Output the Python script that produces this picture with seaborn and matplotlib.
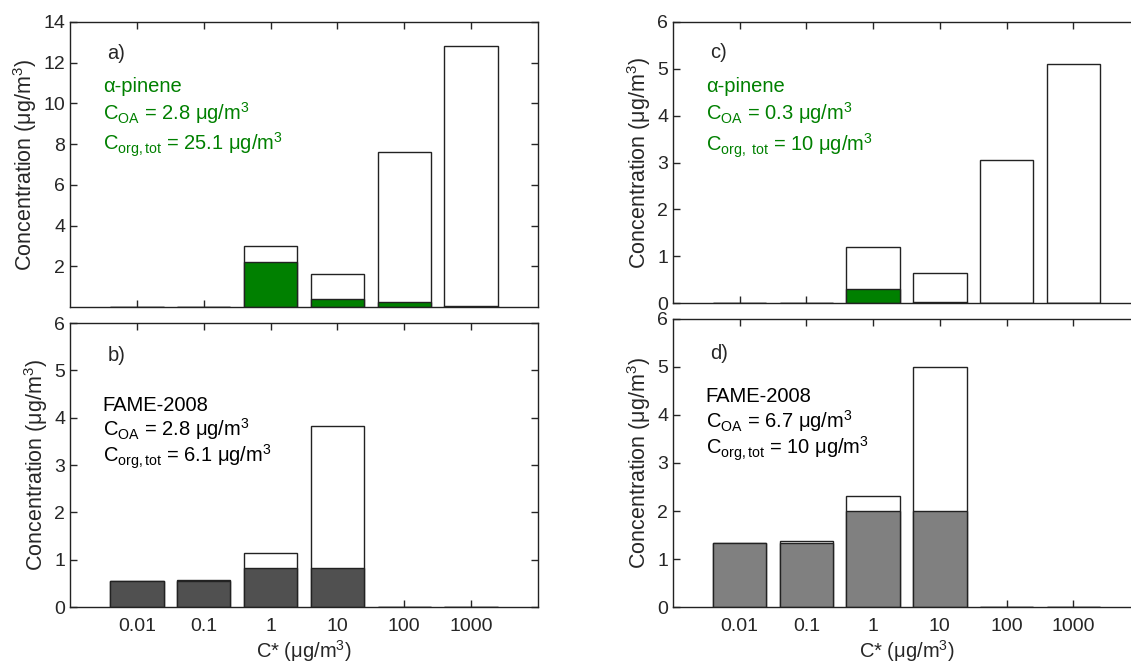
import numpy as np
import pandas as pd
import matplotlib
matplotlib.use('Agg')
import matplotlib.pyplot as plt
import seaborn as sns

# volatility bins (C*, ug/m3)
cstar = ['0.01', '0.1', '1', '10', '100', '1000']

# a) alpha-pinene, C_OA = 2.8
tot_a = [0, 0, 3.0, 1.62, 7.62, 12.8]
cond_a = [0, 0, 2.2, 0.38, 0.25, 0.05]
# b) FAME-2008, C_OA = 2.8
tot_b = [0.55, 0.57, 1.14, 3.83, 0, 0]
cond_b = [0.55, 0.55, 0.83, 0.83, 0, 0]
# c) alpha-pinene, C_OA = 0.3
tot_c = [0, 0, 1.2, 0.64, 3.05, 5.1]
cond_c = [0, 0, 0.29, 0.03, 0.01, 0]
# d) FAME-2008, C_OA = 6.7
tot_d = [1.34, 1.37, 2.31, 5.0, 0, 0]
cond_d = [1.33, 1.33, 2.0, 2.0, 0, 0]

sns.set_style('ticks')
plt.rcParams['font.family'] = ['Liberation Sans', 'DejaVu Sans']
plt.rcParams['mathtext.fontset'] = 'custom'
plt.rcParams['mathtext.rm'] = 'Liberation Sans'
plt.rcParams['mathtext.it'] = 'Liberation Sans:italic'
plt.rcParams['mathtext.bf'] = 'Liberation Sans:bold'
plt.rcParams['xtick.direction'] = 'in'
plt.rcParams['ytick.direction'] = 'in'

W, H = 1131, 662
fig = plt.figure(figsize=(W / 100, H / 100), dpi=100)


def px_axes(left, top, right, bottom):
    return fig.add_axes([left / W, 1 - bottom / H, (right - left) / W, (bottom - top) / H])


ax_a = px_axes(70, 22, 538, 307)
ax_b = px_axes(70, 323, 538, 607)
ax_c = px_axes(673, 22, 1140, 303)
ax_d = px_axes(673, 319, 1140, 607)

green = '#008000'
panels = [
    (ax_a, tot_a, cond_a, green, 14, 'a)', green,
     ['α-pinene', r'C$_{\mathrm{OA}}$ = 2.8 μg/m$^3$', r'C$_{\mathrm{org,tot}}$ = 25.1 μg/m$^3$'],
     [0.89, 0.772, 0.68, 0.57]),
    (ax_b, tot_b, cond_b, '#505050', 6, 'b)', 'black',
     ['FAME-2008', r'C$_{\mathrm{OA}}$ = 2.8 μg/m$^3$', r'C$_{\mathrm{org,tot}}$ = 6.1 μg/m$^3$'],
     [0.885, 0.71, 0.625, 0.53]),
    (ax_c, tot_c, cond_c, green, 6, 'c)', green,
     ['α-pinene', r'C$_{\mathrm{OA}}$ = 0.3 μg/m$^3$', r'C$_{\mathrm{org,\ tot}}$ = 10 μg/m$^3$'],
     [0.89, 0.77, 0.675, 0.56]),
    (ax_d, tot_d, cond_d, '#808080', 6, 'd)', 'black',
     ['FAME-2008', r'C$_{\mathrm{OA}}$ = 6.7 μg/m$^3$', r'C$_{\mathrm{org,tot}}$ = 10 μg/m$^3$'],
     [0.88, 0.73, 0.645, 0.55]),
]

for ax, tot, cond, col, ymax, tag, tcol, lines, ys in panels:
    sns.barplot(x=cstar, y=tot, order=cstar, color='white', saturation=1,
                width=0.8, edgecolor='#222222', linewidth=1.0, ax=ax)
    sns.barplot(x=cstar, y=cond, order=cstar, color=col, saturation=1,
                width=0.8, edgecolor='#222222', linewidth=1.0, ax=ax)
    ax.set_xlim(-1, 6)
    ax.set_ylim(0, ymax)
    ax.tick_params(top=True, right=True, length=5, width=1, labelsize=14)
    for s in ax.spines.values():
        s.set_visible(True)
        s.set_linewidth(1)
        s.set_color('#222222')
    ax.set_ylabel('Concentration (μg/m$^3$)', fontsize=15.5, labelpad=3)
    ax.set_xlabel('')
    ax.text(0.08, ys[0], tag, transform=ax.transAxes, fontsize=14.5, va='center')
    for ln, yy in zip(lines, ys[1:]):
        ax.text(0.07, yy, ln, transform=ax.transAxes, fontsize=14.5, va='center', color=tcol)

for ax in (ax_a, ax_c):
    ax.set_xticklabels([])
ax_a.set_yticks(np.arange(2, 15, 2))
for ax in (ax_b, ax_c, ax_d):
    ax.set_yticks(np.arange(0, 7, 1))
for ax in (ax_b, ax_d):
    ax.set_xlabel('C* (μg/m$^3$)', fontsize=14.5, labelpad=2)
    ax.tick_params(axis='x', pad=8)

fig.savefig('out.png', dpi=100)
